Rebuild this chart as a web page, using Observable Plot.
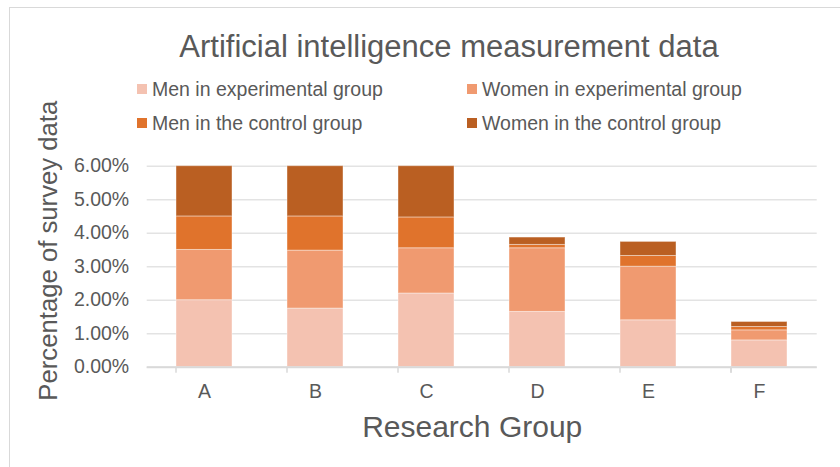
<!DOCTYPE html>
<html>
<head>
<meta charset="utf-8">
<script src="https://cdn.jsdelivr.net/npm/d3@7"></script>
<script src="https://cdn.jsdelivr.net/npm/@observablehq/plot@0.6"></script>
<style>
  html, body { margin: 0; padding: 0; background: #fff; }
  #wrap { position: relative; width: 840px; height: 467px; overflow: hidden; font-family: "Liberation Sans", Arial, sans-serif; color: #595959; }
  #frame { position: absolute; left: 9px; top: 7px; width: 900px; height: 500px; border-left: 1.5px solid #d9d9d9; border-top: 1.5px solid #d9d9d9; pointer-events: none; }
  #title { position: absolute; left: 0; width: 898px; top: 29px; text-align: center; font-size: 31px; line-height: 36px; white-space: nowrap; }
  .leg { position: absolute; font-size: 19.5px; line-height: 22px; white-space: nowrap; display: flex; align-items: center; }
  .sw { display: inline-block; width: 10px; height: 10px; margin-right: 5px; }
  #chart { position: absolute; left: 0; top: 0; }
</style>
</head>
<body>
<div id="wrap">
  <div id="chart"></div>
  <div id="frame"></div>
  <div id="title">Artificial intelligence measurement data</div>
  <div id="legend"></div>
</div>
<script>
const categories = ["A", "B", "C", "D", "E", "F"];
const seriesNames = ["Men in experimental group", "Women in experimental group", "Men in the control group", "Women in the control group"];
const seriesColors = ["#F4C2B1", "#F09A70", "#E0732C", "#BA5F22"];
const menExperimental = [2.0, 1.75, 2.2, 1.65, 1.4, 0.8];
const womenExperimental = [1.5, 1.73, 1.35, 1.9, 1.6, 0.3];
const menControl = [1.0, 1.02, 0.92, 0.1, 0.32, 0.1];
const womenControl = [1.5, 1.5, 1.53, 0.22, 0.42, 0.15];
const yTicks = [0, 1, 2, 3, 4, 5, 6];
const yTitle = "Percentage of survey data";
const xTitle = "Research Group";

const seriesValues = [menExperimental, womenExperimental, menControl, womenControl];
const data = [];
seriesNames.forEach((s, si) => {
  categories.forEach((c, ci) => data.push({group: c, series: s, value: seriesValues[si][ci]}));
});

const W = 840, H = 467;
const ml = 146.7, mr = 23.3, mt = 165.7, mb = 100.3;
const step = (W - ml - mr) / categories.length;
const edges = categories.map((c, i) => ({c, dx: -step / 2}));
edges.push({c: categories[categories.length - 1], dx: step / 2});

const chart = Plot.plot({
  width: W, height: H,
  marginLeft: ml, marginRight: mr, marginTop: mt, marginBottom: mb,
  style: {fontFamily: "'Liberation Sans', Arial, sans-serif", fontSize: "19.5px", color: "#595959", background: "transparent"},
  x: {domain: categories, paddingInner: 0.5, paddingOuter: 0.25},
  y: {domain: [0, 6]},
  color: {domain: seriesNames, range: seriesColors},
  marks: [
    Plot.gridY(yTicks, {stroke: "#e3e3e3", strokeOpacity: 1, strokeWidth: 1.5}),
    Plot.barY(data, {x: "group", y: "value", fill: "series", order: seriesNames, stroke: "#ffffff", strokeOpacity: 0.4, strokeWidth: 1}),
    Plot.ruleY([0], {stroke: "#d9d9d9", strokeWidth: 2}),
    Plot.ruleX(edges, {x: "c", y1: 0, y2: 0, dx: d => d.dx, insetBottom: -6, stroke: "#d9d9d9", strokeWidth: 1.5}),
    Plot.axisY(yTicks, {tickSize: 0, tickPadding: 18, tickFormat: d => d.toFixed(2) + "%", fontSize: 19.5, label: null, fill: "#595959"}),
    Plot.axisX({tickSize: 0, tickPadding: 17, fontSize: 19.5, label: null, fill: "#595959"}),
    Plot.text([yTitle], {text: d => d, frameAnchor: "left", rotate: -90, textAnchor: "middle", lineAnchor: "middle", dx: -98, dy: -16, fontSize: 25.7, fill: "#595959"}),
    Plot.text([xTitle], {text: d => d, frameAnchor: "bottom", textAnchor: "middle", lineAnchor: "middle", dx: -10, dy: 60.5, fontSize: 30, fill: "#595959"})
  ]
});
document.getElementById("chart").appendChild(chart);

// legend
const legend = document.getElementById("legend");
const legPos = [[137, 78], [467, 78], [137, 112], [467, 112]];
seriesNames.forEach((s, i) => {
  const el = document.createElement("div");
  el.className = "leg";
  el.style.left = legPos[i][0] + "px";
  el.style.top = legPos[i][1] + "px";
  el.innerHTML = `<span class="sw" style="background:${seriesColors[i]}"></span><span>${s}</span>`;
  legend.appendChild(el);
});
</script>
</body>
</html>
